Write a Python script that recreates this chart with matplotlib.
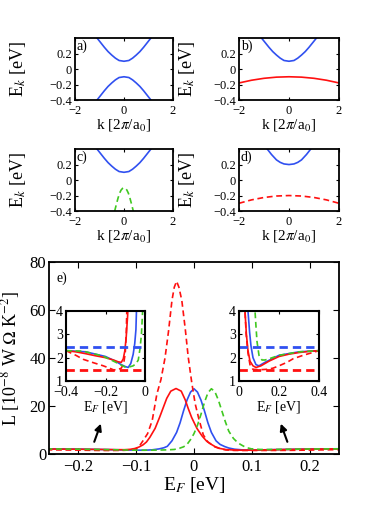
import matplotlib
matplotlib.use("Agg")
import matplotlib.pyplot as plt

plt.rcParams["font.family"] = ["Liberation Serif", "DejaVu Serif"]
plt.rcParams["mathtext.fontset"] = "stix"
plt.rcParams["axes.linewidth"] = 1.3

RED = "#ff1010"
BLUE = "#3050f0"
GREEN = "#40c820"

# band structures, panels a) - d)
k_cond = [-1.1, -0.95, -0.8, -0.65, -0.5, -0.35, -0.2, 0.0, 0.2, 0.35, 0.5, 0.65, 0.8, 0.95, 1.1]
E_cond = [0.40, 0.34, 0.28, 0.225, 0.18, 0.14, 0.11, 0.10, 0.11, 0.14, 0.18, 0.225, 0.28, 0.34, 0.40]
E_val = [-0.40, -0.34, -0.28, -0.225, -0.18, -0.14, -0.11, -0.10, -0.11, -0.14, -0.18, -0.225, -0.28, -0.34, -0.40]

k_flat = [-2.0, -1.5, -1.0, -0.5, 0.0, 0.5, 1.0, 1.5, 2.0]
E_flat_b = [-0.18, -0.145, -0.12, -0.105, -0.10, -0.105, -0.12, -0.145, -0.18]
E_flat_d = [-0.30, -0.256, -0.225, -0.206, -0.20, -0.206, -0.225, -0.256, -0.30]

k_narrow = [-0.38, -0.3, -0.24, -0.18, -0.12, -0.06, 0.0, 0.06, 0.12, 0.18, 0.24, 0.3, 0.38]
E_narrow = [-0.40, -0.30, -0.23, -0.17, -0.13, -0.108, -0.10, -0.108, -0.13, -0.17, -0.23, -0.30, -0.40]

k_cond_d = [-0.87, -0.7, -0.5, -0.35, -0.2, 0.0, 0.2, 0.35, 0.5, 0.7, 0.87]
E_cond_d = [0.40, 0.33, 0.26, 0.228, 0.208, 0.20, 0.208, 0.228, 0.26, 0.33, 0.40]

# Lorenz number vs Fermi energy, panel e)
ef_red = [-0.40, -0.35, -0.30, -0.25, -0.20, -0.16, -0.135, -0.12, -0.11, -0.102,
          -0.095, -0.088, -0.082, -0.076, -0.067, -0.059, -0.052, -0.047, -0.040, -0.031,
          -0.022, -0.015, -0.010, -0.004, 0.005, 0.014, 0.022, 0.030, 0.037, 0.045,
          0.055, 0.070, 0.085, 0.110, 0.150, 0.200, 0.250, 0.300, 0.350, 0.400]
L_red = [2.30, 2.25, 2.17, 2.08, 2.00, 1.90, 1.82, 1.80, 1.95, 2.30,
         2.90, 3.80, 5.00, 7.00, 10.7, 15.5, 20.0, 23.2, 26.2, 27.3,
         26.2, 22.5, 19.0, 15.2, 10.7, 7.5, 5.3, 4.0, 3.0, 2.3,
         1.85, 1.65, 1.58, 1.65, 1.85, 2.05, 2.15, 2.22, 2.27, 2.30]

ef_blue = [-0.40, -0.30, -0.20, -0.15, -0.12, -0.10, -0.085, -0.072, -0.060, -0.052,
           -0.046, -0.038, -0.030, -0.024, -0.018, -0.012, -0.006, 0.000, 0.006, 0.012,
           0.018, 0.024, 0.030, 0.038, 0.045, 0.053, 0.060, 0.070, 0.085, 0.100,
           0.130, 0.200, 0.300, 0.400]
L_blue = [2.30, 2.25, 2.05, 1.85, 1.70, 1.62, 1.58, 1.75, 2.14, 2.60,
          3.20, 5.50, 9.00, 13.0, 18.0, 22.5, 25.8, 27.2, 25.8, 22.5,
          18.0, 13.0, 9.00, 5.50, 4.00, 3.10, 2.50, 2.00, 1.70, 1.65,
          1.80, 2.10, 2.25, 2.30]

ef_green = [-0.40, -0.315, -0.213, -0.145, -0.12, -0.102, -0.08, -0.06, -0.045, -0.034,
            -0.025, -0.018, -0.012, -0.006, 0.000, 0.006, 0.012, 0.018, 0.024, 0.030,
            0.036, 0.042, 0.048, 0.054, 0.060, 0.068, 0.076, 0.083, 0.090, 0.100,
            0.115, 0.130, 0.150, 0.200, 0.300, 0.400]
L_green = [2.30, 2.28, 2.07, 1.79, 1.68, 1.60, 1.60, 1.65, 1.75, 1.90,
           2.40, 3.00, 4.00, 6.00, 8.50, 12.0, 16.5, 21.5, 25.5, 27.2,
           26.0, 22.5, 18.0, 13.5, 9.50, 6.50, 4.60, 3.60, 2.70, 2.10,
           1.90, 1.90, 1.95, 2.10, 2.25, 2.30]

ef_redd = [-0.40, -0.35, -0.313, -0.26, -0.211, -0.18, -0.16, -0.14, -0.12, -0.108,
           -0.100, -0.095, -0.088, -0.080, -0.072, -0.064, -0.057, -0.050, -0.044, -0.038,
           -0.034, -0.030, -0.026, -0.021, -0.015, -0.010, -0.004, 0.002, 0.008, 0.016,
           0.024, 0.030, 0.036, 0.045, 0.055, 0.070, 0.100, 0.140, 0.170, 0.200,
           0.240, 0.270, 0.320, 0.360, 0.400]
L_redd = [2.30, 2.10, 1.93, 1.78, 1.65, 1.55, 1.48, 1.48, 1.55, 1.75,
          2.20, 3.00, 5.50, 8.50, 14.0, 25.0, 31.0, 40.0, 51.0, 64.0,
          69.5, 72.0, 69.5, 64.0, 52.0, 40.5, 30.0, 21.0, 15.0, 8.00,
          5.00, 4.00, 3.00, 2.20, 1.70, 1.50, 1.48, 1.50, 1.55, 1.65,
          1.80, 1.95, 2.10, 2.20, 2.30]

L0_wf = 2.44
L_low = 1.48

DASH = (3.5, 2.2)


def style_axes(ax, size, length):
    ax.tick_params(direction="in", top=True, right=True, labelsize=size,
                   length=length, width=0.8, pad=2)
    ax.tick_params(axis="x", pad=3.5)


def band_panel(rect, label, ylab_x):
    ax = fig.add_axes(rect)
    ax.set_xlim(-2, 2)
    ax.set_ylim(-0.4, 0.4)
    ax.set_xticks([-2, 0, 2])
    ax.set_yticks([-0.4, -0.2, 0, 0.2])
    ax.set_yticklabels(["\u22120.4", "\u22120.2", "0", "0.2"])
    ax.set_xticklabels(["\u22122", "0", "2"])
    style_axes(ax, 9, 2.5)
    ax.set_xlabel(r"k [2$\pi$/a$_0$]", fontsize=11, labelpad=0)
    ax.set_ylabel(r"E$_k$ [eV]", fontsize=13)
    ax.yaxis.set_label_coords(ylab_x, 0.5)
    ax.text(0.02, 0.97, label, transform=ax.transAxes, fontsize=10, va="top", ha="left")
    return ax


fig = plt.figure(figsize=(3.74, 5.11), dpi=100)

ax_a = band_panel([0.2005, 0.8043, 0.262, 0.1213], "a)", -0.48)
ax_a.plot(k_cond, E_cond, color=BLUE, lw=1.2)
ax_a.plot(k_cond, E_val, color=BLUE, lw=1.2)

ax_b = band_panel([0.639, 0.8043, 0.2674, 0.1213], "b)", -0.42)
ax_b.plot(k_cond, E_cond, color=BLUE, lw=1.2)
ax_b.plot(k_flat, E_flat_b, color=RED, lw=1.2)

ax_c = band_panel([0.2005, 0.587, 0.262, 0.1213], "c)", -0.48)
ax_c.plot(k_cond, E_cond, color=BLUE, lw=1.2)
ax_c.plot(k_narrow, E_narrow, color=GREEN, lw=1.2, ls="--", dashes=DASH)

ax_d = band_panel([0.639, 0.587, 0.2674, 0.1213], "d)", -0.42)
ax_d.plot(k_cond_d, E_cond_d, color=BLUE, lw=1.2)
ax_d.plot(k_flat, E_flat_d, color=RED, lw=1.2, ls="--", dashes=DASH)


def draw_curves(ax):
    ax.plot(ef_blue, L_blue, color=BLUE, lw=1.2)
    ax.plot(ef_red, L_red, color=RED, lw=1.2)
    ax.plot(ef_redd, L_redd, color=RED, lw=1.2, ls="--", dashes=DASH)
    ax.plot(ef_green, L_green, color=GREEN, lw=1.2, ls="--", dashes=DASH)


# main panel e)
ax_e = fig.add_axes([0.131, 0.1115, 0.7754, 0.3757])
draw_curves(ax_e)
ax_e.set_xlim(-0.25, 0.25)
ax_e.set_ylim(0, 80)
ax_e.set_xticks([-0.2, -0.1, 0, 0.1, 0.2])
ax_e.set_xticklabels(["\u22120.2", "\u22120.1", "0", "0.1", "0.2"])
ax_e.set_yticks([0, 20, 40, 60, 80])
style_axes(ax_e, 12, 4)
ax_e.set_xlabel(r"E$_F$ [eV]", fontsize=14, labelpad=0)
ax_e.set_ylabel(r"L [10$^{-8}$ W $\Omega$ K$^{-2}$]", fontsize=13)
ax_e.yaxis.set_label_coords(-0.092, 0.5)
ax_e.text(0.025, 0.95, "e)", transform=ax_e.transAxes, fontsize=10, va="top")

for tail, head in [((-0.1736, 4.0), (-0.159, 13.75)), ((0.1626, 4.0), (0.148, 13.75))]:
    ax_e.annotate("", xy=head, xytext=tail,
                  arrowprops=dict(arrowstyle="-|>", color="k", lw=1.5, mutation_scale=10))

# insets
for rect, xlim, xticks, xlabels in [
    ([0.1765, 0.2544, 0.2112, 0.137], (-0.4, 0), [-0.4, -0.2, 0], ["\u22120.4", "\u22120.2", "0"]),
    ([0.639, 0.2544, 0.2139, 0.137], (0, 0.4), [0, 0.2, 0.4], ["0", "0.2", "0.4"]),
]:
    ins = fig.add_axes(rect)
    ins.set_facecolor("white")
    draw_curves(ins)
    ins.axhline(L0_wf, color=BLUE, lw=2, ls="--", dashes=(3, 1.8))
    ins.axhline(L_low, color=RED, lw=2, ls="--", dashes=(3, 1.8))
    ins.set_xlim(*xlim)
    ins.set_ylim(1, 4)
    ins.set_xticks(xticks)
    ins.set_xticklabels(xlabels)
    ins.set_yticks([1, 2, 3, 4])
    style_axes(ins, 10, 2.5)
    ins.set_xlabel(r"E$_F$ [eV]", fontsize=10, labelpad=0)
    for s in ins.spines.values():
        s.set_linewidth(1.5)

fig.savefig("out.png", dpi=100)
